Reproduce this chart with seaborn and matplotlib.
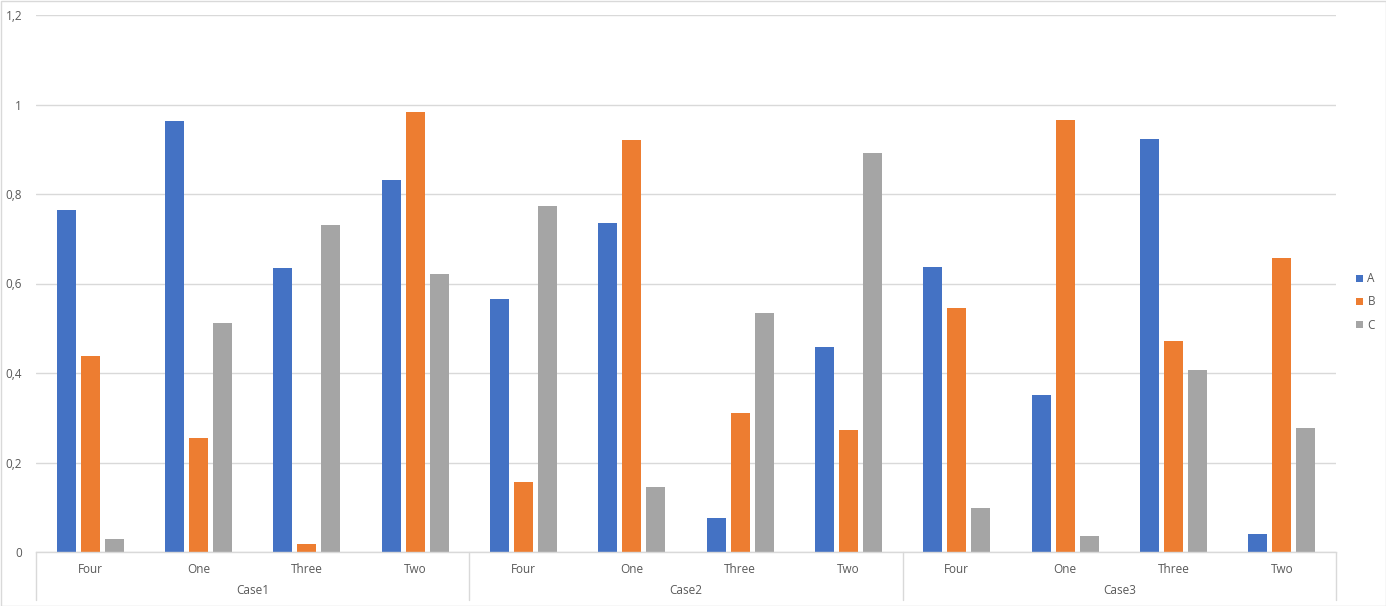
import matplotlib
matplotlib.use("Agg")
import matplotlib.pyplot as plt
import seaborn as sns
import pandas as pd
from matplotlib.patches import Rectangle
from matplotlib.lines import Line2D

cases = ["Case1", "Case2", "Case3"]
subcats = ["Four", "One", "Three", "Two"]
series = ["A", "B", "C"]
vals_A = [0.764, 0.963, 0.635, 0.831, 0.565, 0.735, 0.076, 0.458, 0.637, 0.351, 0.923, 0.040]
vals_B = [0.438, 0.255, 0.018, 0.983, 0.156, 0.921, 0.311, 0.273, 0.545, 0.965, 0.472, 0.657]
vals_C = [0.029, 0.512, 0.731, 0.621, 0.773, 0.145, 0.534, 0.892, 0.098, 0.036, 0.407, 0.277]
yticks = [0, 0.2, 0.4, 0.6, 0.8, 1.0, 1.2]
ytick_labels = ["0", "0,2", "0,4", "0,6", "0,8", "1", "1,2"]
colors = ["#4472C4", "#ED7D31", "#A5A5A5"]

cats = [f"{c}|{s}" for c in cases for s in subcats]
rows = []
for vals, name in zip([vals_A, vals_B, vals_C], series):
    for cat, v in zip(cats, vals):
        rows.append({"cat": cat, "series": name, "value": v})
df = pd.DataFrame(rows)

sns.set_theme(style="white")
plt.rcParams["font.family"] = ["Open Sans", "DejaVu Sans"]
txt = "#595959"
grid = "#d9d9d9"

fig = plt.figure(figsize=(13.86, 6.06), dpi=100)
ax = fig.add_axes([36 / 1386, 54 / 606, 1300 / 1386, 537 / 606])
sns.barplot(data=df, x="cat", y="value", hue="series", order=cats, hue_order=series,
            palette=colors, width=0.665, gap=0.2, ax=ax, legend=False,
            saturation=1, edgecolor="none", linewidth=0)

ax.set_xlim(-0.5, len(cats) - 0.5)
ax.set_ylim(0, 1.2)
ax.set_yticks(yticks)
ax.set_yticklabels(ytick_labels, color=txt, fontsize=8.5)
ax.tick_params(axis="y", length=0, pad=10)
ax.yaxis.grid(True, color=grid, linewidth=1)
ax.set_axisbelow(True)
ax.set_xlabel("")
ax.set_ylabel("")
for s in ["top", "right", "left"]:
    ax.spines[s].set_visible(False)
ax.spines["bottom"].set_color(grid)
ax.spines["bottom"].set_linewidth(1)

ax.set_xticks(range(len(cats)))
ax.set_xticklabels([c.split("|")[1] for c in cats], color=txt, fontsize=8.5)
ax.tick_params(axis="x", length=0, pad=8)

trans = ax.get_xaxis_transform()
for i, c in enumerate(cases):
    center = i * 4 + 1.5
    ax.text(center, -38 / 537, c, transform=trans, ha="center", va="center",
            color=txt, fontsize=8.5)
for b in [-0.5, 3.5, 7.5, 11.5]:
    ax.add_line(Line2D([b, b], [0, -48 / 537], transform=trans, color=grid,
                       linewidth=1, clip_on=False))

handles = [Rectangle((0, 0), 1, 1, facecolor=col, edgecolor="none") for col in colors]
fig.legend(handles, series, loc="center left", bbox_to_anchor=(1345 / 1386, 1 - 302 / 606),
           frameon=False, fontsize=8.5, labelcolor=txt, handlelength=0.6, handleheight=0.6,
           handletextpad=0.4, labelspacing=0.85)

fig.patches.append(Rectangle((0.5 / 1386, 0.5 / 606), 1 - 1 / 1386, 1 - 1 / 606,
                             transform=fig.transFigure, fill=False, edgecolor=grid, linewidth=1))

fig.savefig("out.png", dpi=100, facecolor="white")
